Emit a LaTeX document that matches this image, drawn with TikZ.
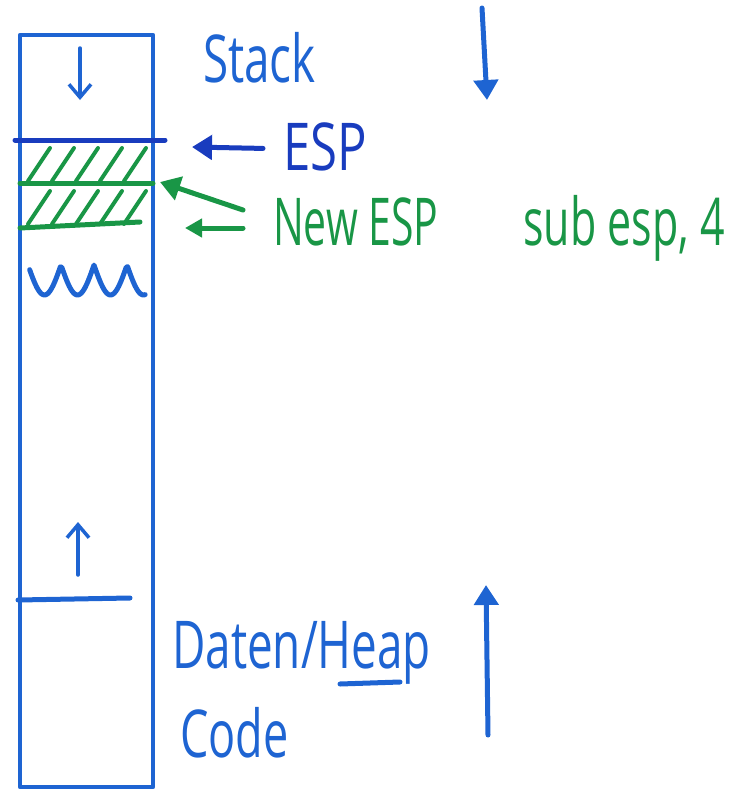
\documentclass[tikz,border=0pt]{standalone}
\usepackage{fontspec}
\setmainfont{Open Sans}
\usetikzlibrary{arrows.meta,positioning}
\definecolor{penblue}{RGB}{30,100,210}
\definecolor{inkblue}{RGB}{25,60,190}
\definecolor{pengreen}{RGB}{25,150,70}
\tikzset{
  pen/.style={line width=5pt,line cap=round,line join=round},
  hand/.style={font=\fontsize{66}{66}\selectfont,inner sep=0pt,anchor=base west,xscale=0.62},
  smallhead/.style={-{Straight Barb[length=13pt,width=22pt,line width=3.5pt]}},
  bighead/.style={-{Triangle[length=20pt,width=24pt]}},
}
\begin{document}
\begin{tikzpicture}[x=1pt,y=-1pt]
\useasboundingbox (0,0) rectangle (735,798);
% memory column
\draw[pen,penblue,line width=4.5pt] (20,35) rectangle (153,787);
\coordinate (top) at (153,140);
\coordinate (slot1) at (153,183);
\coordinate (slot2) at (153,226);
% hatched slots
\begin{scope}
\clip (20,140) rectangle (152,228);
\foreach \x in {28,52,76,100,124} {
  \draw[pen,pengreen,line width=4pt] (\x,181)--(\x+22,148);
  \draw[pen,pengreen,line width=4pt] (\x,224)--(\x+22,191);
}
\end{scope}
\draw[pen,pengreen] (20,183)--(slot1);
\draw[pen,pengreen] (20,228)--(140,222);
\draw[pen,inkblue] (15,140)--(165,140);
% squiggle
\draw[pen,penblue] plot[domain=0.05:3.55,samples=80] ({28+33*\x},{265+30*abs(sin(180*\x))});
% heap border
\draw[pen,penblue] (18,600)--(130,598);
% growth arrows in the column
\coordinate (sd0) at (80,48);
\coordinate (sd1) at (80,100);
\draw[pen,penblue,line width=3.5pt,smallhead] (sd0)--(sd1);
\coordinate (su0) at (78,575);
\coordinate (su1) at (78,522);
\draw[pen,penblue,line width=3.5pt,smallhead] (su0)--(su1);
% labels
\node[hand,text=penblue,xscale=1.12] (stack) at (203,82) {Stack};
\node[hand,text=inkblue,xscale=1.2] (esp) at (283,170) {ESP};
\node[hand,text=pengreen] (newesp) at (273,245) {New ESP};
\node[hand,text=pengreen,xscale=1.05] (sub) at (523,245) {sub esp, 4};
\node[hand,text=penblue,xscale=1.12] (daten) at (172,668) {Daten/Heap};
\node[hand,text=penblue,xscale=1.1] (code) at (180,757) {Code};
\coordinate (ul0) at (340,684);
\coordinate (ul1) at (400,682);
\draw[pen,penblue] (ul0)--(ul1);
% pointers
\coordinate (espend) at (192,147);
\draw[pen,inkblue,bighead] ([xshift=-20pt,yshift=-2pt]esp.west)--(espend);
\coordinate (newend1) at (160,182);
\coordinate (newstart1) at (243,210);
\draw[pen,pengreen,bighead] (newstart1)--(newend1);
\coordinate (newend2) at (185,228);
\coordinate (newstart2) at (243,228);
\draw[pen,pengreen,-{Triangle[length=17pt,width=18pt]}] (newstart2)--(newend2);
% direction arrows
\coordinate (down0) at (482,8);
\coordinate (down1) at (487,100);
\draw[pen,penblue,bighead] (down0)--(down1);
\coordinate (up0) at (488,735);
\coordinate (up1) at (486,585);
\draw[pen,penblue,bighead] (up0)--(up1);
\end{tikzpicture}
\end{document}
